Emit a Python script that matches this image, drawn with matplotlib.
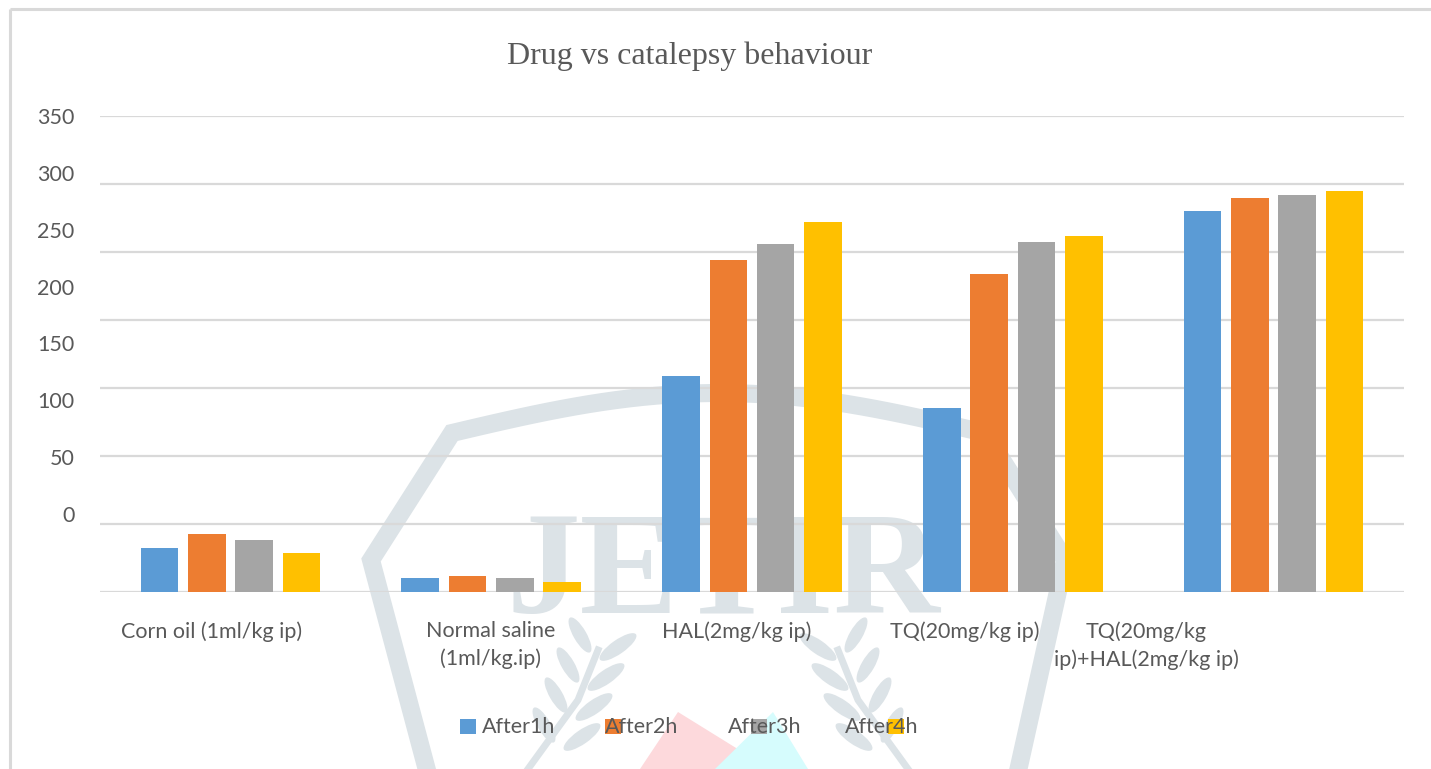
import matplotlib.pyplot as plt
import numpy as np
from matplotlib.patches import Polygon, Rectangle, Ellipse

# ---------------- data ----------------
groups = ["Corn oil (1ml/kg ip)", "Normal saline\n(1ml/kg.ip)", "HAL(2mg/kg ip)",
          "TQ(20mg/kg ip)", "TQ(20mg/kg\nip)+HAL(2mg/kg ip)"]
series = ["After1h", "After2h", "After3h", "After4h"]
after1h = [32, 10, 159, 135, 280]
after2h = [43, 12, 244, 234, 290]
after3h = [38, 10, 256, 257, 292]
after4h = [29, 7, 272, 262, 295]
colors = ["#5B9BD5", "#ED7D31", "#A5A5A5", "#FFC000"]
yticks = [0, 50, 100, 150, 200, 250, 300, 350]

txt = "#595959"
grid_c = "#d9d9d9"
wm = "#dce3e7"
fs = 15.5

plt.rcParams['font.family'] = ['Lato', 'DejaVu Sans']

W, H = 1431, 769
fig = plt.figure(figsize=(W / 100, H / 100), dpi=100)
fig.patch.set_facecolor("white")

# background layer in pixel coordinates: frame, watermark, title, legend
bg = fig.add_axes([0, 0, 1, 1], zorder=0)
bg.set_xlim(0, W)
bg.set_ylim(H, 0)
bg.axis("off")

bg.plot([10, W], [9, 9], color=grid_c, lw=2.2, solid_capstyle="butt")
bg.plot([10, 10], [9, H], color=grid_c, lw=2.2, solid_capstyle="butt")

# watermark: shield outline, lettering, laurel and the two coloured wedges
t = np.linspace(0, 1, 40)
top_x = 452 + (985 - 452) * t
top_y = 433 - 40 * np.sin(np.pi * t)
shield_x = np.concatenate([[432, 371], top_x, [1065, 1014]])
shield_y = np.concatenate([[H + 20, 560], top_y, [560, H + 20]])
bg.plot(shield_x, shield_y, color=wm, lw=13, solid_joinstyle="miter", zorder=1)
bg.text(723, 613, "JETIR", fontsize=106, fontweight="bold", family="Liberation Serif",
        color=wm, ha="center", va="baseline", zorder=1)
bg.add_patch(Polygon([[678, 712], [640, H], [770, H]], closed=True, color="#fdd9dc", lw=0, zorder=1))
bg.add_patch(Polygon([[773, 712], [715, H], [808, H]], closed=True, color="#d6fcfd", lw=0, zorder=1))
for side in (-1, 1):
    cx = 718 + side * 150
    bg.plot([cx + side * 40, cx - side * 10, cx - side * 30], [H, 700, 650],
            color=wm, lw=5, zorder=1)
    for k in range(4):
        lx = cx - side * (28 - 12 * k)
        ly = 655 + 30 * k
        bg.add_patch(Ellipse((lx - side * 22, ly - 8), 44, 14, angle=side * 35,
                             color=wm, lw=0, zorder=1))
        bg.add_patch(Ellipse((lx + side * 16, ly - 20), 40, 13, angle=-side * 60,
                             color=wm, lw=0, zorder=1))

bg.text(690, 56, "Drug vs catalepsy behaviour", fontsize=23, family="Liberation Serif",
        color=txt, ha="center", va="center", zorder=3)

# legend laid out by hand
leg_text_x = [482, 605, 728, 845]
leg_mark_x = [460, 605, 751, 888]
for name, c, tx, mx in zip(series, colors, leg_text_x, leg_mark_x):
    bg.add_patch(Rectangle((mx, 719), 16, 15, color=c, lw=0, zorder=2))
    bg.text(tx, 727, name, fontsize=fs, color=txt, ha="left", va="center", zorder=3)

# ---------------- bars ----------------
ax = fig.add_axes([100 / W, (H - 592) / H, 1304 / W, 476 / H], zorder=1)
ax.set_facecolor("none")

x = np.arange(len(groups))
step = 0.1815
width = 0.144
for i, (vals, c) in enumerate(zip([after1h, after2h, after3h, after4h], colors)):
    ax.bar(x + (i - 1.5) * step, vals, width=width, color=c, zorder=3, label=series[i])

for v in yticks:
    ax.axhline(v, color=grid_c, lw=1.6, zorder=1)

ax.set_xlim(-0.5, len(groups) - 0.5)
ax.set_ylim(0, 350)

# category labels sit left of their groups
label_shift = [-0.071, -0.001, -0.058, -0.183, -0.489]
ax.set_xticks(x + np.array(label_shift))
ax.set_xticklabels(groups, fontsize=fs, color=txt, linespacing=1.45)
# value labels drift above the gridlines
ax.set_yticks([57.4 + v * 0.836 for v in yticks])
ax.set_yticklabels([str(v) for v in yticks], fontsize=fs, color=txt)
ax.tick_params(axis="x", length=0, pad=21)
ax.tick_params(axis="y", length=0, pad=18.5)
for s in ax.spines.values():
    s.set_visible(False)

fig.savefig("out.png", dpi=100)
